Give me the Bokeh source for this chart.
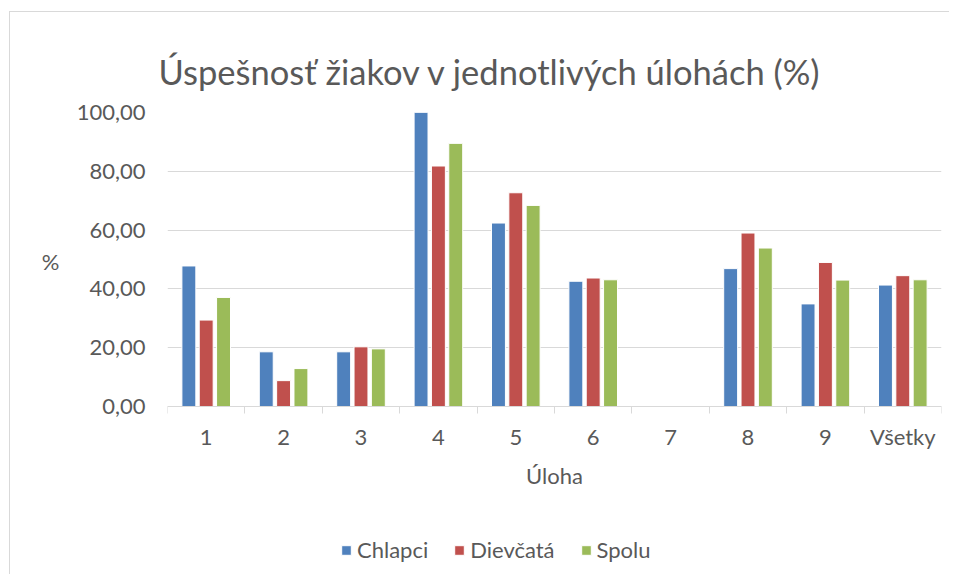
import numpy as np
from bokeh.plotting import figure
from bokeh.models import (ColumnDataSource, FixedTicker, Legend, LegendItem, Range1d,
                          LinearAxis)
from bokeh.transform import dodge
from bokeh.embed import file_html
from bokeh.resources import INLINE

categories = ["1", "2", "3", "4", "5", "6", "7", "8", "9", "Všetky"]
chlapci = [47.8, 18.6, 18.6, 100.0, 62.4, 42.6, 0.0, 46.9, 34.9, 41.3]
dievcata = [29.4, 8.8, 20.3, 81.8, 72.7, 43.7, 0.0, 59.0, 49.0, 44.5]
spolu = [37.1, 12.9, 19.6, 89.5, 68.4, 43.1, 0.0, 53.9, 43.0, 43.1]
series_names = ["Chlapci", "Dievčatá", "Spolu"]
colors = ["#4F81BD", "#C0504D", "#9BBB59"]
y_ticks = [0, 20, 40, 60, 80, 100]

FONT = "Lato"
GREY = "#595959"
LINE = "#d9d9d9"

# layout geometry (pixels)
PLOT_H = 294          # height of the 0..100 value band
EXTRA_H = 168         # room below the zero line for axis labels and legend
y_low = -100.0 * EXTRA_H / PLOT_H

pos = np.arange(1, len(categories) + 1)
src = ColumnDataSource(dict(pos=pos, Chlapci=chlapci, Dievcata=dievcata, Spolu=spolu))

p = figure(frame_width=774, frame_height=PLOT_H + EXTRA_H, output_backend="svg",
           toolbar_location=None, x_axis_location=None, y_axis_location=None,
           x_range=Range1d(0.5, len(categories) + 0.5), y_range=Range1d(y_low, 100),
           min_border_left=157, min_border_right=8,
           min_border_top=100, min_border_bottom=0,
           title="Úspešnosť žiakov v jednotlivých úlohách (%)")
p.margin = (11, 0, 0, 9)
p.styles = {"border-left": "1px solid #d9d9d9", "border-top": "1px solid #d9d9d9"}
p.outline_line_color = None

p.title.align = "left"
p.title.offset = -9
p.title.text_font = FONT
p.title.text_font_size = "34.5px"
p.title.text_font_style = "normal"
p.title.text_color = GREY
p.title.standoff = 41

offsets = [-0.224, 0.0, 0.224]
fields = ["Chlapci", "Dievcata", "Spolu"]
renderers = []
for f, off, c in zip(fields, offsets, colors):
    r = p.vbar(x=dodge("pos", off), top=f, width=0.18, bottom=0, source=src,
               fill_color=c, line_color="white", line_width=1)
    renderers.append(r)

# x axis drawn at the zero line
xa = LinearAxis(fixed_location=0)
xa.ticker = FixedTicker(ticks=list(pos), minor_ticks=list(np.arange(0.5, len(categories) + 1, 1.0)))
xa.major_label_overrides = {int(k): v for k, v in zip(pos, categories)}
xa.major_tick_line_color = None
xa.major_tick_out = 0
xa.minor_tick_out = 7
xa.minor_tick_in = 0
xa.minor_tick_line_color = LINE
xa.axis_line_color = LINE
xa.major_label_text_font = FONT
xa.major_label_text_font_size = "22px"
xa.major_label_text_color = GREY
xa.major_label_standoff = 9
xa.axis_label = "Úloha"
xa.axis_label_text_font = FONT
xa.axis_label_text_font_size = "22px"
xa.axis_label_text_font_style = "normal"
xa.axis_label_text_color = GREY
xa.axis_label_standoff = 9
p.add_layout(xa, "below")

ya = LinearAxis()
ya.ticker = FixedTicker(ticks=y_ticks)
ya.major_label_overrides = {t: f"{t:.2f}".replace(".", ",") for t in y_ticks}
ya.axis_line_color = None
ya.major_tick_line_color = None
ya.minor_tick_line_color = None
ya.major_tick_out = 0
ya.major_label_text_font = FONT
ya.major_label_text_font_size = "22px"
ya.major_label_text_color = GREY
ya.major_label_standoff = 22
p.add_layout(ya, "left")

# "%" axis title, horizontal, beside the middle of the value band
pa = LinearAxis()
pa.ticker = FixedTicker(ticks=[49.3])
pa.major_label_overrides = {49.3: "%"}
pa.axis_line_color = None
pa.major_tick_line_color = None
pa.minor_tick_line_color = None
pa.major_tick_out = 0
pa.major_label_text_font = FONT
pa.major_label_text_font_size = "22px"
pa.major_label_text_color = GREY
pa.major_label_standoff = 14
p.add_layout(pa, "left")

p.xgrid.grid_line_color = None
p.ygrid.ticker = FixedTicker(ticks=y_ticks)
p.ygrid.grid_line_color = LINE
p.ygrid.grid_line_width = 1

legend = Legend(items=[LegendItem(label=n, renderers=[r]) for n, r in zip(series_names, renderers)],
                orientation="horizontal", location=(173, 11),
                glyph_width=12, glyph_height=12, label_standoff=5, spacing=25,
                padding=0, margin=0, border_line_color=None, background_fill_alpha=0,
                label_text_font=FONT, label_text_font_size="22px", label_text_color=GREY)
p.add_layout(legend, "center")

open("out.html", "w").write(file_html(p, INLINE))
